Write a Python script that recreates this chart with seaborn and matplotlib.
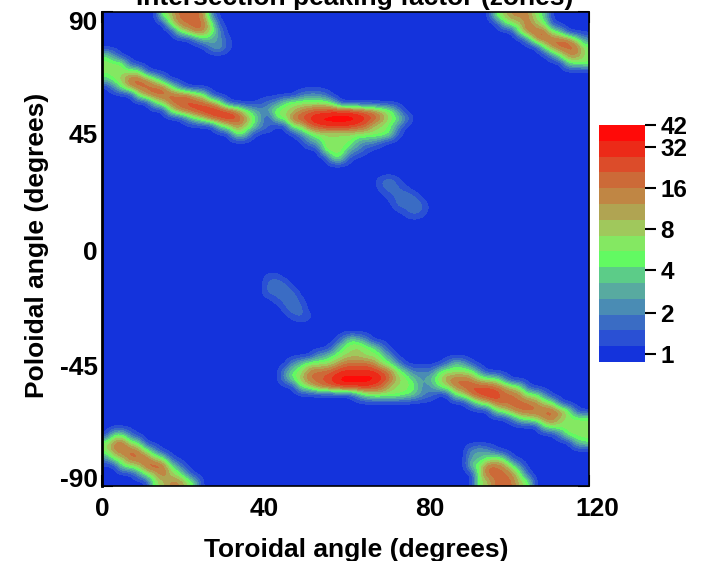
import numpy as np
import pandas as pd
import seaborn as sns
import matplotlib.pyplot as plt
from matplotlib.colors import ListedColormap
from matplotlib.transforms import ScaledTranslation

# band colours of the colour bar, bottom to top
band_colors = ["#1433dc", "#2a50d4", "#3a6cc4", "#4a8cb4", "#58aaa0", "#5ccc88", "#62fa62", "#84e862",
               "#a0c85c", "#b0a452", "#c08644", "#cc6a38", "#dc4c2a", "#ec2a18", "#ff0a08"]
cbar_labels = ["1", "2", "4", "8", "16", "32", "42"]
cbar_levels = [0.0, 2.6, 5.3, 7.9, 10.5, 13.1, 14.5]

xticks_major = [0, 40, 80, 120]
yticks_major = [90, 45, 0, -45, -90]

n_rows = 60
n_cols = 60

# (row, first col, band index per cell in base 15), cells are 2 x 3 degrees, row 0 at +90
top_left = [(0, 7, "78bbba3"), (1, 8, "7abbb71"), (2, 9, "68ba73"), (3, 11, "25431"), (4, 13, "341")]
upper_ridge = [(5, 0, "63"), (6, 0, "7771"), (7, 0, "777771"), (8, 0, "578bba73"),
               (9, 1, "37abbbb73"), (10, 4, "7abbbbb871"), (11, 6, "68bbccba71"),
               (12, 8, "7abcdddcb75"), (13, 10, "368bcdcb7"), (14, 14, "57a8"), (15, 16, "661")]
bridge_upper = [(11, 19, "123"), (12, 19, "3"), (13, 19, "4"), (14, 18, "632"), (15, 18, "1")]
centre_upper = [(10, 24, "2332"), (11, 22, "6777775"), (12, 20, "4778abccdddcba873"),
                (13, 21, "67bcdeeeeeedca7630"), (14, 23, "77bcddddcb8763"),
                (15, 24, "3577777777761"), (16, 25, "3478774331"),
                (17, 27, "777431"), (18, 28, "661")]
top_right = [(0, 48, "68aaa75"), (1, 49, "578b871"), (2, 51, "7bbb75"), (3, 52, "3abbbb73"),
             (4, 54, "6abbb7"), (5, 55, "37aa7"), (6, 57, "667")]
faint_upper = [(21, 34, "231"), (22, 34, "1221"), (23, 35, "1232"), (24, 36, "2232"), (25, 37, "121")]
faint_lower = [(33, 20, "11"), (34, 20, "232"), (35, 20, "2232"), (36, 21, "1231"), (37, 22, "132"), (38, 23, "121")]
centre_lower = [(41, 29, "2653"), (42, 28, "2678763"), (43, 26, "3467887763"),
                (44, 23, "357778abbba763"), (45, 22, "367abbcdddddca753"),
                (46, 22, "368bbcdeeeeedb875"), (47, 24, "67abcddddcb87764"),
                (48, 31, "3677776532")]
bridge_lower = [(45, 38, "232"), (46, 39, "3"), (47, 39, "33")]
lower_ridge = [(44, 42, "2541"), (45, 41, "677773"), (46, 40, "57abba8773"), (47, 41, "67abcccba871"),
               (48, 43, "67bcddbba773"), (49, 45, "378bbbbba871"), (50, 48, "67abbbbba71"),
               (51, 50, "2678ab8777"), (52, 54, "677777"), (53, 56, "3777"), (54, 58, "56")]
bottom_right = [(55, 45, "3431"), (56, 45, "446761"), (57, 45, "57bba73"), (58, 46, "7bbba71"), (59, 46, "78bbb87")]
bottom_left = [(53, 1, "662"), (54, 0, "7ab76"), (55, 0, "7abba73"), (56, 0, "378bbb871"), (57, 2, "678bcb73"),
               (58, 4, "378b873"), (59, 6, "78aa85")]

features = [top_left, upper_ridge, bridge_upper, centre_upper, top_right, faint_upper, faint_lower,
            centre_lower, bridge_lower, lower_ridge, bottom_right, bottom_left]

levels = np.zeros((n_rows, n_cols))
for feature in features:
    for row, col, cells in feature:
        for i, c in enumerate(cells):
            levels[row, col + i] = int(c, 15)

grid = pd.DataFrame(levels)
cmap = ListedColormap(band_colors)

sns.set_theme(style="white")
plt.rcParams["font.family"] = ["Liberation Sans", "DejaVu Sans"]
plt.rcParams["font.weight"] = "bold"
plt.rcParams["text.color"] = "black"
plt.rcParams["axes.labelcolor"] = "black"
plt.rcParams["xtick.labelcolor"] = "black"
plt.rcParams["ytick.labelcolor"] = "black"

W, H = 702, 561
fig = plt.figure(figsize=(W / 100, H / 100), dpi=100)
ax = fig.add_axes([102 / W, 1 - 486 / H, (589 - 102) / W, (486 - 12) / H])
cax = fig.add_axes([599 / W, 1 - 362 / H, (645 - 599) / W, (362 - 125) / H])

sns.heatmap(grid, ax=ax, cmap=cmap, vmin=-0.5, vmax=14.5, cbar_ax=cax, xticklabels=False, yticklabels=False)
# smooth rendering of the same cells on top of the mesh
ax.imshow(levels, cmap=cmap, vmin=-0.5, vmax=14.5, interpolation="bicubic", extent=(0, n_cols, n_rows, 0),
          aspect="auto", zorder=3)
ax.set_xlim(0, n_cols)
ax.set_ylim(n_rows, 0)


def x_pos(deg):
    return deg / 120 * n_cols


def y_pos(deg):
    return (90 - deg) / 180 * n_rows


for s in ax.spines.values():
    s.set_visible(True)
    s.set_color("black")
    s.set_linewidth(1.2)
    s.set_zorder(5)
ax.spines["left"].set_linewidth(2)

ax.set_xticks([x_pos(v) for v in xticks_major])
ax.set_xticklabels([str(v) for v in xticks_major], fontsize=19, fontweight="bold")
ax.set_xticks([x_pos(v) for v in range(10, 120, 10)], minor=True)
ax.set_yticks([y_pos(v) for v in yticks_major])
ax.set_yticklabels([str(v) for v in yticks_major], fontsize=19, fontweight="bold", rotation=0)
ax.set_yticks([y_pos(v) for v in range(-80, 90, 10)], minor=True)
ax.tick_params(axis="both", which="major", direction="in", length=8, width=1.5, color="black",
               top=True, right=True, bottom=True, left=True)
ax.tick_params(axis="x", which="major", pad=8)
ax.tick_params(axis="y", which="major", pad=3)
ax.tick_params(axis="both", which="minor", direction="in", length=5, width=1.2, color="black",
               top=True, right=True, bottom=True, left=True)
ax.set_axisbelow(False)

# end labels in the reference sit inward of their ticks
for label, dx in zip(ax.get_xticklabels(), [0, 0, 3, 8]):
    label.set_transform(label.get_transform() + ScaledTranslation(dx / 100, 0, fig.dpi_scale_trans))
for label, dy in zip(ax.get_yticklabels(), [-8, -3, -2, 2, 8]):
    label.set_transform(label.get_transform() + ScaledTranslation(0, dy / 100, fig.dpi_scale_trans))

ax.set_xlabel("Toroidal angle (degrees)", fontsize=19, fontweight="bold", labelpad=12, x=0.5216)
ax.set_ylabel("Poloidal angle (degrees)", fontsize=19, fontweight="bold", labelpad=8, y=0.508)
fig.text(355 / W, 1 - 5 / H, "Intersection peaking factor (zones)", fontsize=19, fontweight="bold",
         ha="center", va="baseline")

cax.set_yticks(cbar_levels)
cax.set_yticklabels(cbar_labels, fontsize=17.5, fontweight="bold")
cax.yaxis.set_ticks_position("right")
cax.tick_params(axis="y", direction="out", length=8, width=1.5, color="black", pad=3,
                right=True, left=False, labelright=True, labelleft=False)
for s in cax.spines.values():
    s.set_visible(False)

fig.savefig("out.png", dpi=100)
